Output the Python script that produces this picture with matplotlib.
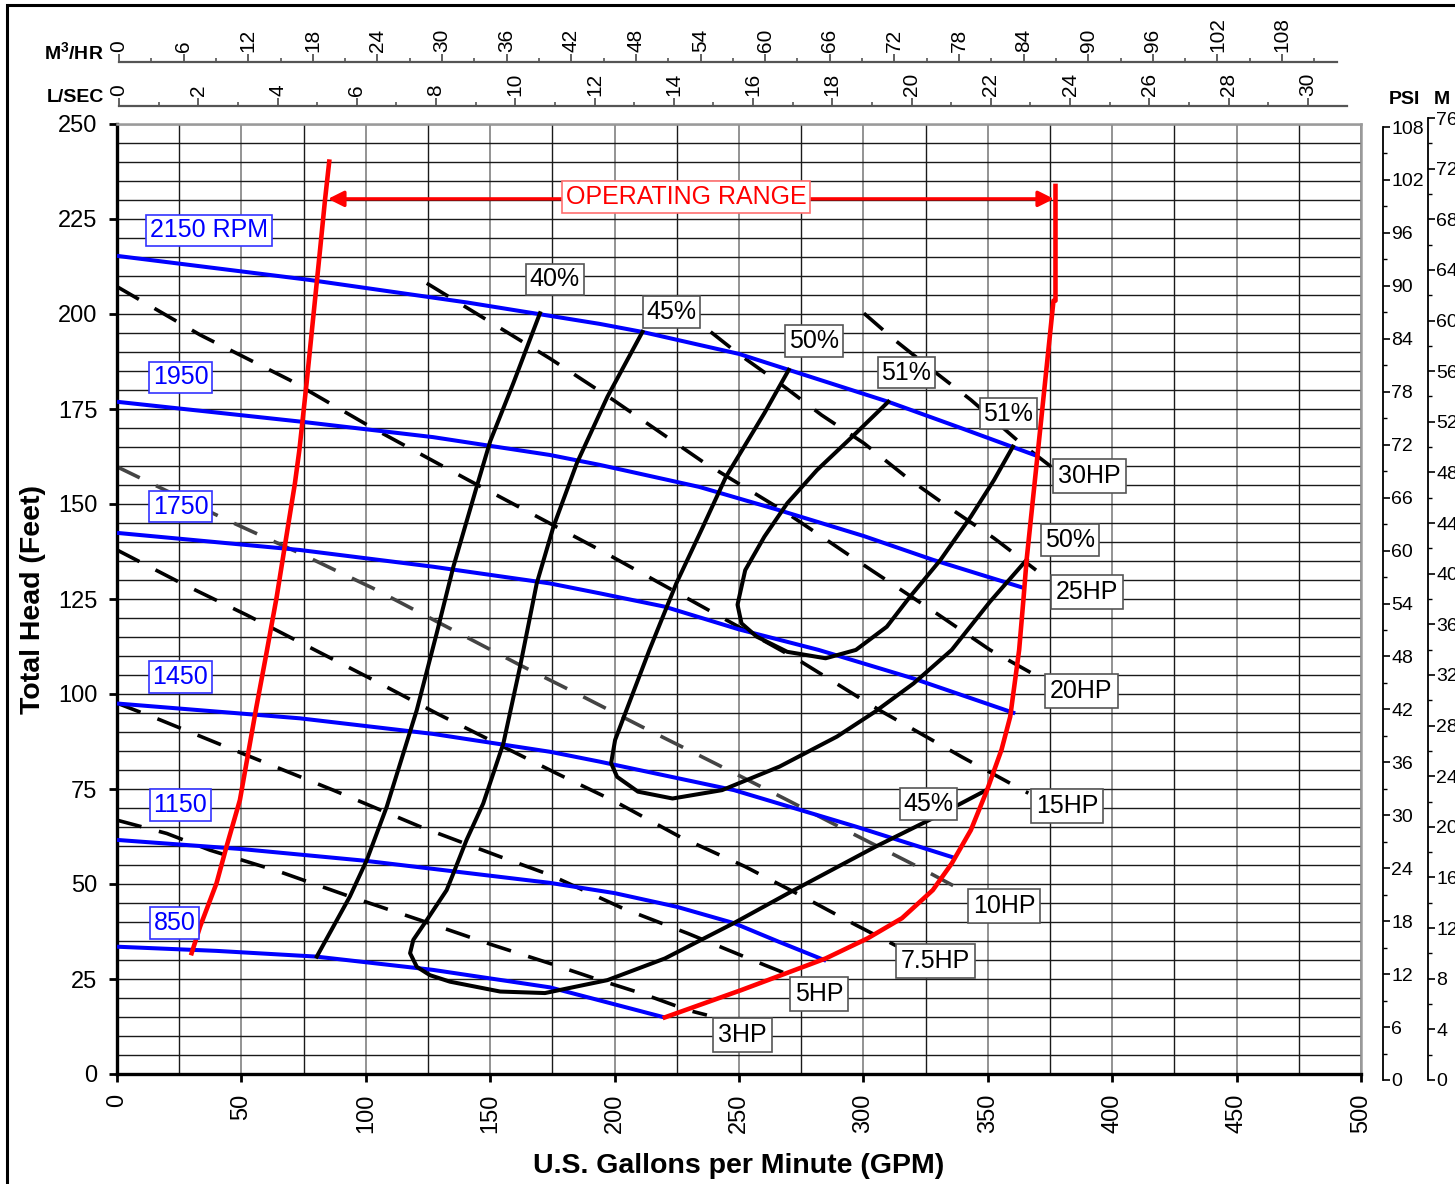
import matplotlib
matplotlib.use('Agg')
import matplotlib.pyplot as plt
from matplotlib.patches import Rectangle
from matplotlib.ticker import MultipleLocator

plt.rcParams['font.family'] = ['Liberation Sans', 'DejaVu Sans']
plt.rcParams['mathtext.default'] = 'regular'

# --- pump speed curves (GPM, head in feet) ---
rpm2150_q = [0, 77, 141, 194, 211, 250, 270, 310, 340, 370]
rpm2150_h = [215.3, 209.0, 203.0, 197.4, 195.3, 189.5, 185.3, 176.9, 169.8, 162.6]
rpm1950_q = [0, 73.5, 127, 174, 194, 234, 266, 300, 328, 365]
rpm1950_h = [176.9, 171.7, 167.6, 162.9, 160.3, 154.5, 148.4, 141.6, 135.3, 127.8]
rpm1750_q = [0, 73.5, 127, 174, 194, 220, 250, 282, 320, 361]
rpm1750_h = [142.4, 137.9, 133.5, 129.1, 126.5, 123.0, 117.0, 111.6, 104.1, 94.9]
rpm1450_q = [0, 73.5, 127, 174, 194, 248, 297, 337]
rpm1450_h = [97.5, 93.6, 89.5, 84.8, 82.2, 74.7, 65.1, 56.8]
rpm1150_q = [0, 50, 100, 174, 200, 225, 248, 266, 285]
rpm1150_h = [61.6, 59.2, 56.1, 50.3, 47.6, 44.0, 39.7, 34.8, 29.8]
rpm850_q = [0, 40, 80, 127, 174, 220]
rpm850_h = [33.5, 32.4, 30.9, 27.4, 22.8, 14.9]

speed_q = [rpm2150_q, rpm1950_q, rpm1750_q, rpm1450_q, rpm1150_q, rpm850_q]
speed_h = [rpm2150_h, rpm1950_h, rpm1750_h, rpm1450_h, rpm1150_h, rpm850_h]
speed_labels = ['2150 RPM', '1950', '1750', '1450', '1150', '850']

# --- operating range limits ---
min_flow_q = [30, 33.4, 40, 44, 49.4, 56, 60, 64.2, 67.2, 71.5, 73.3, 76.2, 78.9, 81.6, 83.6, 85.3]
min_flow_h = [31.8, 38.8, 50.2, 59.8, 72.1, 96.5, 110.5, 125.6, 137.9, 155.4, 164.2, 181.8, 199.3, 216.8, 230.0, 240.1]
max_flow_q = [220.2, 251, 284.8, 301.7, 315.5, 327.9, 335.5, 343.2, 349.7, 355.5, 359, 362.6,
              364.3, 365.6, 370.2, 376.4, 377.2, 377.2]
max_flow_h = [14.9, 22.1, 30.4, 35.7, 41.0, 48.4, 55.4, 64.2, 74.7, 85.3, 94.0, 111.6,
              124.7, 135.3, 164.2, 203.5, 203.5, 233.7]
range_left, range_right, range_head = 84.8, 376.6, 230.3

# --- efficiency curves ---
eff40_q = [80.3, 93.6, 100.4, 108.4, 120.5, 128.5, 135.2, 144.6, 150, 159.3, 170]
eff40_h = [30.9, 46.7, 56.3, 70.3, 95.8, 116.0, 133.5, 154.6, 166.5, 181.8, 200.2]
eff45_q = [211.2, 197.1, 184.8, 175.4, 168.7, 162, 155.3, 147.2, 140.5, 135.2, 132.5, 124.5,
           119.1, 117.8, 120.5, 125.8, 133.8, 154, 172, 197.1, 220.2, 247.9, 271, 304.8, 327.9, 349.4]
eff45_h = [195.3, 178.2, 160.7, 144.0, 129.1, 107.2, 87.0, 71.2, 61.6, 52.8, 48.4, 40.5,
           35.3, 31.8, 28.2, 26.0, 24.3, 21.7, 21.3, 24.7, 30.4, 39.7, 48.0, 59.8, 67.3, 74.7]
eff50_q = [270, 260.2, 244.8, 235.5, 224.8, 214, 206.3, 200.2, 198.6, 201, 209.4, 223.3,
           243.2, 266.3, 289.4, 304.8, 320.2, 335.5, 350.9, 365.6]
eff50_h = [185.3, 173.9, 157.2, 144.0, 129.1, 111.6, 98.4, 87.9, 81.8, 78.2, 74.3, 72.5,
           74.7, 80.9, 88.8, 95.4, 102.8, 111.6, 124.3, 135.3]
eff51_q = [310, 295.5, 281.3, 269.4, 260.2, 252.5, 249.4, 251, 257.1, 269.4, 284.8, 297,
           309.4, 318.6, 331, 343.2, 352.5, 360.1]
eff51_h = [176.9, 167.7, 158.9, 150.2, 141.4, 132.6, 123.5, 118.6, 115.1, 111.1, 109.4, 111.6,
           117.7, 125.5, 135.3, 146.7, 156.3, 165.1]

eff_q = [eff40_q, eff45_q, eff50_q, eff51_q]
eff_h = [eff40_h, eff45_h, eff50_h, eff51_h]
eff_labels = ['40%', '45%', '50%', '51%', '51%', '50%', '45%']

# --- horsepower lines ---
hp30_q = [300.2, 312.5, 329.4, 343.2, 363.2, 375.5]
hp30_h = [200.2, 193.2, 184.4, 177.4, 166.0, 159.8]
hp25_q = [238.6, 249.4, 266.3, 283.2, 300.2, 317.8, 334.8, 352.5, 369.4]
hp25_h = [195.3, 189.7, 181.8, 173.4, 166.0, 156.8, 148.9, 141.0, 132.6]
hp20_q = [124.5, 174, 199.4, 235.5, 269.3, 300.2, 329.2, 350.9, 369.8]
hp20_h = [208.1, 188.3, 177.4, 161.1, 147.6, 133.9, 121.3, 111.6, 104.7]
hp15_q = [0, 33.4, 69.5, 103, 141.2, 194.1, 240.2, 274, 306.3, 339.4, 366.3]
hp15_h = [207.2, 194.5, 182.6, 169.9, 156.3, 137.9, 121.2, 108.9, 95.8, 83.5, 73.9]
hp10_q = [0, 44.1, 73.6, 103, 132.5, 162, 186.1, 210.9, 240.2, 269.4, 295.5, 323.2, 341.7]
hp10_h = [159.8, 145.8, 137.0, 127.8, 117.7, 107.6, 99.7, 91.4, 81.8, 72.1, 63.3, 54.1, 47.6]
hp7_q = [0, 26, 52.1, 78.3, 103, 128.5, 152.6, 176.7, 200.2, 226.3, 252.4, 275.6, 297, 313.9]
hp7_h = [137.9, 129.1, 120.8, 112.0, 103.7, 94.9, 87.0, 79.1, 71.7, 62.4, 54.6, 46.7, 39.2, 33.5]
hp5_q = [0, 17.3, 52.1, 86.9, 121.8, 153.9, 174, 203.3, 229.4, 260.2, 268.6]
hp5_h = [97.6, 93.2, 83.9, 74.7, 65.1, 57.2, 52.4, 43.6, 37.0, 28.7, 26.5]
hp3_q = [0, 20, 37.4, 65.5, 93.6, 121.8, 151.2, 174, 194, 210.9, 229.4, 237.1]
hp3_h = [66.8, 63.3, 58.9, 53.2, 46.7, 40.5, 33.9, 29.1, 24.7, 21.2, 16.8, 15.5]

hp_q = [hp30_q, hp25_q, hp20_q, hp15_q, hp10_q, hp7_q, hp5_q, hp3_q]
hp_h = [hp30_h, hp25_h, hp20_h, hp15_h, hp10_h, hp7_h, hp5_h, hp3_h]
hp_labels = ['30HP', '25HP', '20HP', '15HP', '10HP', '7.5HP', '5HP', '3HP']

# label anchor points (GPM, ft)
speed_label_pos = [(37.0, 222.0), (25.5, 183.3), (25.5, 149.3), (25.5, 104.5), (25.5, 70.8), (23.1, 39.7)]
eff_label_pos = [(176.0, 209.1), (222.9, 200.5), (280.1, 192.9), (317.3, 184.6),
                 (358.3, 173.8), (383.0, 140.5), (326.2, 71.1)]
hp_label_pos = [(378.2, 157.4), (377.4, 126.8), (375.0, 100.8), (369.4, 70.5),
                (344.0, 44.2), (315.0, 29.7), (272.5, 21.1), (241.6, 10.3)]

W, H = 1455, 1184
fig = plt.figure(figsize=(W / 100, H / 100), dpi=100)


def px_box(x0, y0, x1, y1):
    # pixel rect (top-left origin) -> figure fractions
    return [x0 / W, 1 - y1 / H, (x1 - x0) / W, (y1 - y0) / H]


ax = fig.add_axes(px_box(117, 124, 1361, 1074))
ax.set_xlim(0, 500)
ax.set_ylim(0, 250)
ax.set_xticks(range(0, 501, 50))
ax.set_yticks(range(0, 251, 25))
ax.xaxis.set_minor_locator(MultipleLocator(25))
ax.yaxis.set_minor_locator(MultipleLocator(5))
ax.grid(which='major', axis='x', color='#8a8a8a', lw=1.3)
ax.grid(which='minor', axis='x', color='#1a1a1a', lw=1.0)
ax.grid(which='both', axis='y', color='#1a1a1a', lw=1.0)
ax.set_axisbelow(True)
ax.tick_params(which='minor', length=0)
ax.tick_params(which='major', direction='out', length=6, width=2, labelsize=17, pad=8)
ax.tick_params(axis='x', labelrotation=90)
for s in ['left', 'bottom']:
    ax.spines[s].set_linewidth(2.4)
    ax.spines[s].set_color('black')
for s in ['top', 'right']:
    ax.spines[s].set_linewidth(1.8)
    ax.spines[s].set_color('#9a9a9a')

# HP lines
for i, (q, h) in enumerate(zip(hp_q, hp_h)):
    col = '#444444' if hp_labels[i] == '10HP' else 'black'
    ax.plot(q, h, color=col, lw=2.6, dashes=(7, 5), zorder=2)

# speed curves
for q, h in zip(speed_q, speed_h):
    ax.plot(q, h, color='#0000ff', lw=2.9, zorder=3, solid_capstyle='butt')

# efficiency curves
for q, h in zip(eff_q, eff_h):
    ax.plot(q, h, color='black', lw=2.9, zorder=3)

# operating range
ax.plot(min_flow_q, min_flow_h, color='#ff0000', lw=3.3, zorder=4)
ax.plot(max_flow_q, max_flow_h, color='#ff0000', lw=3.3, zorder=4)
ax.annotate('', xy=(range_left, range_head), xytext=(range_right, range_head),
            arrowprops=dict(arrowstyle='<|-|>,head_length=0.5,head_width=0.25', color='#ff0000',
                            lw=2.4, mutation_scale=19, shrinkA=0, shrinkB=0), zorder=4)
ax.text(228.8, 230.8, 'OPERATING RANGE', color='#ff0000', fontsize=18, ha='center', va='center',
        zorder=6, bbox=dict(boxstyle='square,pad=0.15', fc='white', ec='#ff7070', lw=1.2))

for (x, y), s in zip(speed_label_pos, speed_labels):
    ax.text(x, y, s, color='#0000ff', fontsize=18, ha='center', va='center', zorder=6,
            bbox=dict(boxstyle='square,pad=0.15', fc='white', ec='#3333ff', lw=1.2))
for (x, y), s in zip(eff_label_pos, eff_labels):
    ax.text(x, y, s, color='black', fontsize=18, ha='center', va='center', zorder=6,
            bbox=dict(boxstyle='square,pad=0.15', fc='white', ec='#555555', lw=1.2))
for (x, y), s in zip(hp_label_pos, hp_labels):
    ax.text(x, y, s, color='black', fontsize=18, ha='left', va='center', zorder=6,
            bbox=dict(boxstyle='square,pad=0.2', fc='white', ec='#555555', lw=1.2))

fig.text(739 / W, 1 - 1166 / H, 'U.S. Gallons per Minute (GPM)', fontsize=20.5,
         fontweight='bold', ha='center', va='center')
fig.text(33 / W, 1 - 600 / H, 'Total Head (Feet)', fontsize=20.5, fontweight='bold',
         ha='center', va='center', rotation=90)

# top flow scales
top_scales = [
    (px_box(119, 61.5, 1337, 62), 113.1, 6, 3, 'M$^{3}$/HR', 52),
    (px_box(119, 105.5, 1347, 106), 30.99, 2, 1, 'L/SEC', 97),
]
for rect, xmax, major, minor, name, ylab in top_scales:
    a = fig.add_axes(rect)
    a.set_xlim(0, xmax)
    a.set_ylim(0, 1)
    a.patch.set_visible(False)
    a.xaxis.tick_top()
    a.set_xticks(range(0, int(xmax) + 1, major))
    a.xaxis.set_minor_locator(MultipleLocator(minor))
    a.set_yticks([])
    for s in ['left', 'right', 'bottom']:
        a.spines[s].set_visible(False)
    a.spines['top'].set_color('#555555')
    a.spines['top'].set_linewidth(1.6)
    a.tick_params(axis='x', which='major', direction='out', length=6, width=1.3, color='#555555',
                  labelsize=15, labelrotation=90, pad=1)
    a.tick_params(axis='x', which='minor', direction='out', length=3, width=1.2, color='#555555')
    fig.text(104 / W, 1 - ylab / H, name, fontsize=14, fontweight='bold', ha='right', va='center')

# right pressure scales
right_scales = [
    (px_box(1382.5, 127, 1383, 1080), 108, 6, 3),
    (px_box(1427.5, 118, 1428, 1080), 76, 4, 2),
]
for rect, ymax, major, minor in right_scales:
    a = fig.add_axes(rect)
    a.set_ylim(0, ymax)
    a.set_xlim(0, 1)
    a.patch.set_visible(False)
    a.yaxis.tick_right()
    a.set_yticks(range(0, ymax + 1, major))
    a.yaxis.set_minor_locator(MultipleLocator(minor))
    a.set_xticks([])
    for s in ['left', 'top', 'bottom']:
        a.spines[s].set_visible(False)
    a.spines['right'].set_linewidth(1.3)
    a.tick_params(axis='y', which='major', direction='out', length=5, width=1.2, labelsize=14, pad=1)
    a.tick_params(axis='y', which='minor', direction='out', length=3, width=1.0)

fig.text(1404 / W, 1 - 100 / H, 'PSI', fontsize=14, fontweight='bold', ha='center', va='center')
fig.text(1442 / W, 1 - 100 / H, 'M', fontsize=14, fontweight='bold', ha='center', va='center')

# outer frame
fig.patches.append(Rectangle((7 / W, -0.05), 1.2, 1.05 - 5 / H, transform=fig.transFigure,
                             fill=False, ec='black', lw=2.2))

fig.savefig('out.png', dpi=100)
